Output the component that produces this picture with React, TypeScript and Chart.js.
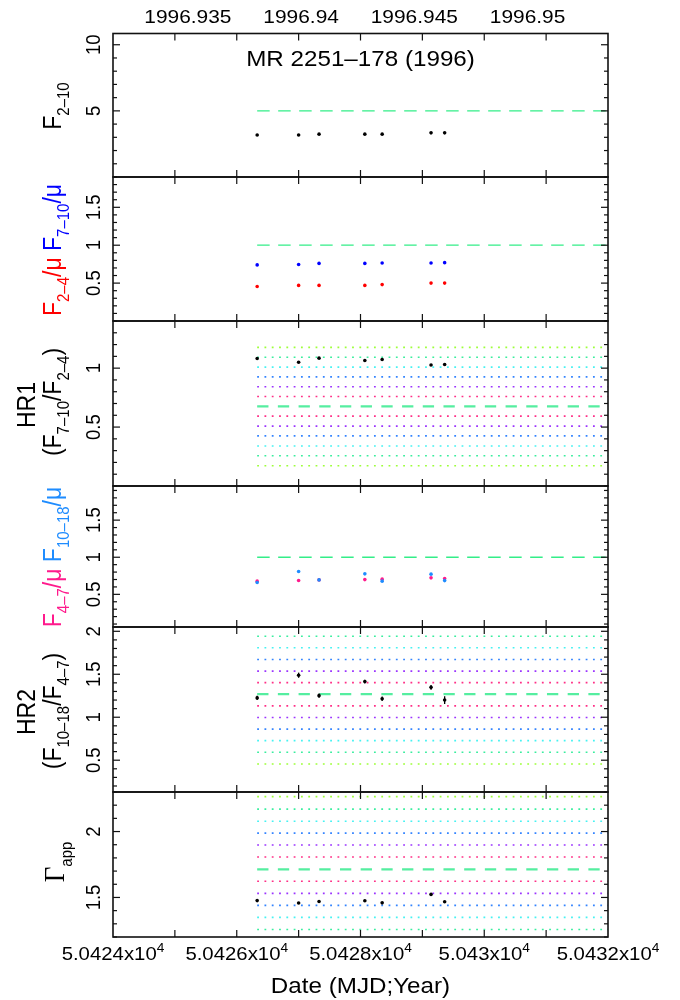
import React, { useEffect, useRef } from 'react';
import { Chart, registerables } from 'chart.js';

Chart.register(...registerables);

// ---------- data ----------
const mjd = [50426.33, 50427.0, 50427.33, 50428.07, 50428.35, 50429.14, 50429.36];
const f210 = [3.18, 3.18, 3.24, 3.24, 3.24, 3.34, 3.34];
const f24mu = [0.456, 0.47, 0.47, 0.47, 0.48, 0.5, 0.5];
const f710mu = [0.74, 0.745, 0.76, 0.76, 0.765, 0.765, 0.77];
const hr1 = [1.082, 1.05, 1.085, 1.065, 1.073, 1.027, 1.031];
const hr1Err = [0.008, 0.007, 0.008, 0.008, 0.008, 0.009, 0.012];
const f47mu = [0.678, 0.686, 0.695, 0.699, 0.705, 0.722, 0.713];
const f1018mu = [0.659, 0.807, 0.695, 0.776, 0.678, 0.772, 0.685];
const hr2 = [1.225, 1.489, 1.251, 1.415, 1.215, 1.348, 1.2];
const hr2Err = [0.025, 0.03, 0.025, 0.022, 0.025, 0.028, 0.045];
const gammaApp = [1.476, 1.458, 1.469, 1.475, 1.459, 1.523, 1.467];
const gammaErr = [0.006, 0.006, 0.006, 0.006, 0.006, 0.007, 0.007];

// reference levels (mean dashed, +/- sigma dotted)
const f210Ref = 5;
const ratioRef = 1;
const hr1Mean = 0.676;
const hr1Above = [0.759, 0.842, 0.926, 1.009, 1.093, 1.176];
const hr1Below = [0.593, 0.508, 0.425, 0.34, 0.257, 0.172];
const hr2Mean = 1.268;
const hr2Above = [1.403, 1.536, 1.671, 1.808, 1.942];
const hr2Below = [1.132, 0.997, 0.862, 0.728, 0.592, 0.456];
const gamMean = 1.713;
const gamAbove = [1.807, 1.898, 1.988, 2.078, 2.17, 2.265];
const gamBelow = [1.623, 1.531, 1.44, 1.349, 1.257];
const sigmaColors = ['#ff2f86', '#9b34ff', '#3384ff', '#45f2f2', '#38ee9e', '#9dff38'];

// axes / ticks
const X_MIN = 50424;
const X_MAX = 50432;
const xTickValues = [50424, 50426, 50428, 50430, 50432];
const yearTickLabels = ['1996.935', '1996.94', '1996.945', '1996.95'];
const YEAR0_MJD = 50083;
const DAYS_IN_YEAR = 366;

const p1Ticks = [5, 10];
const p1Labels = ['5', '10'];
const p2Ticks = [0.5, 1, 1.5];
const p2Labels = ['0.5', '1', '1.5'];
const p3Ticks = [0.5, 1];
const p3Labels = ['0.5', '1'];
const p4Ticks = [0.5, 1, 1.5];
const p4Labels = ['0.5', '1', '1.5'];
const p5Ticks = [0.5, 1, 1.5, 2];
const p5Labels = ['0.5', '1', '1.5', '2'];
const p6Ticks = [1.5, 2];
const p6Labels = ['1.5', '2'];

// ---------- layout / style ----------
const W = 680;
const H = 1000;
const PLOT_LEFT = 113;
const PLOT_RIGHT = 608;
const SANS = '"Liberation Sans", Arial, Helvetica, sans-serif';
const SERIF = '"Liberation Serif", "Times New Roman", serif';
const SX = 1.1;
const TICK = 18.5;
const TITLE = 23;
const SUB = 15;

type Seg = { t: string; s: number; c?: string; dy?: number; f?: string };

function rich(ctx: CanvasRenderingContext2D, x: number, y: number, segs: Seg[], rot: boolean) {
  ctx.save();
  ctx.translate(x, y);
  ctx.scale(SX, 1);
  if (rot) ctx.rotate(-Math.PI / 2);
  ctx.textBaseline = 'alphabetic';
  ctx.textAlign = 'left';
  const widths = segs.map((s) => {
    ctx.font = `${s.s}px ${s.f || SANS}`;
    return ctx.measureText(s.t).width;
  });
  const total = widths.reduce((a, b) => a + b, 0);
  let cx = -total / 2;
  segs.forEach((s, i) => {
    ctx.font = `${s.s}px ${s.f || SANS}`;
    ctx.fillStyle = s.c || '#000';
    ctx.fillText(s.t, cx, s.dy || 0);
    cx += widths[i];
  });
  ctx.restore();
}

const pts = (ys: number[], color: string) => ({
  type: 'scatter',
  data: mjd.map((x, i) => ({ x, y: ys[i] })),
  backgroundColor: color,
  borderColor: color,
  borderWidth: 0,
  pointRadius: 1.8,
  pointHoverRadius: 1.8,
  order: 0,
});

const refLine = (y: number, color: string, width: number, dash: number[]) => ({
  type: 'scatter',
  showLine: true,
  data: [
    { x: mjd[0], y },
    { x: X_MAX, y },
  ],
  borderColor: color,
  backgroundColor: color,
  borderWidth: width,
  borderDash: dash,
  pointRadius: 0,
  pointHoverRadius: 0,
  fill: false,
  order: 5,
});

const thinDash = (y: number) => refLine(y, '#33ee88', 1.3, [12.5, 8.5]);
const thickDash = (y: number) => refLine(y, '#55eea0', 2.3, [11.3, 9.4]);
const sigmaLines = (above: number[], below: number[]) => [
  ...above.map((v, i) => refLine(v, sigmaColors[i], 1.6, [1.8, 5.5])),
  ...below.map((v, i) => refLine(v, sigmaColors[i], 1.6, [1.8, 5.5])),
];

type Panel = {
  id: string;
  top: number;
  bottom: number;
  yMin: number;
  yMax: number;
  ticks: number[];
  labels: string[];
  minor: number;
  datasets: any[];
  errors?: { y: number[]; e: number[] }[];
  extra: (ctx: CanvasRenderingContext2D, a: any, xs: any, ys: any) => void;
};

const panels: Panel[] = [
  {
    id: 'p1',
    top: 33.5,
    bottom: 177,
    yMin: 0,
    yMax: 10.85,
    ticks: p1Ticks,
    labels: p1Labels,
    minor: 1,
    datasets: [thinDash(f210Ref), pts(f210, '#000')],
    extra: (ctx, a, xs) => {
      rich(ctx, 61, 106, [{ t: 'F', s: TITLE }, { t: '2\u201310', s: SUB, dy: 7 }], true);
      rich(ctx, (a.left + a.right) / 2, 66, [{ t: 'MR 2251\u2013178 (1996)', s: 22 }], false);
      yearTickLabels.forEach((lbl) => {
        const px = xs.getPixelForValue(YEAR0_MJD + (parseFloat(lbl) - 1996) * DAYS_IN_YEAR);
        rich(ctx, px, 23, [{ t: lbl, s: 19 }], false);
      });
    },
  },
  {
    id: 'p2',
    top: 177,
    bottom: 321,
    yMin: 0,
    yMax: 1.9,
    ticks: p2Ticks,
    labels: p2Labels,
    minor: 0.1,
    datasets: [thinDash(ratioRef), pts(f710mu, '#0000ff'), pts(f24mu, '#ff0000')],
    extra: (ctx) => {
      rich(
        ctx,
        61,
        250,
        [
          { t: 'F', s: TITLE, c: '#ff0000' },
          { t: '2\u20134', s: SUB, dy: 7, c: '#ff0000' },
          { t: '/\u03bc ', s: TITLE, c: '#ff0000' },
          { t: 'F', s: TITLE, c: '#0000ff' },
          { t: '7\u201310', s: SUB, dy: 7, c: '#0000ff' },
          { t: '/\u03bc', s: TITLE, c: '#0000ff' },
        ],
        true
      );
    },
  },
  {
    id: 'p3',
    top: 321,
    bottom: 486,
    yMin: 0,
    yMax: 1.4,
    ticks: p3Ticks,
    labels: p3Labels,
    minor: 0.1,
    datasets: [...sigmaLines(hr1Above, hr1Below), thickDash(hr1Mean), pts(hr1, '#000')],
    errors: [{ y: hr1, e: hr1Err }],
    extra: (ctx) => {
      rich(ctx, 35, 405, [{ t: 'HR1', s: TITLE }], true);
      rich(
        ctx,
        61,
        402,
        [
          { t: '(F', s: TITLE },
          { t: '7\u201310', s: SUB, dy: 7 },
          { t: '/F', s: TITLE },
          { t: '2\u20134', s: SUB, dy: 7 },
          { t: ')', s: TITLE },
        ],
        true
      );
    },
  },
  {
    id: 'p4',
    top: 486,
    bottom: 627,
    yMin: 0.06,
    yMax: 1.96,
    ticks: p4Ticks,
    labels: p4Labels,
    minor: 0.1,
    datasets: [thinDash(ratioRef), pts(f1018mu, '#1e8cff'), pts(f47mu, '#ff1a8c')],
    extra: (ctx) => {
      rich(
        ctx,
        61,
        557,
        [
          { t: 'F', s: TITLE, c: '#ff1a8c' },
          { t: '4\u20137', s: SUB, dy: 7, c: '#ff1a8c' },
          { t: '/\u03bc ', s: TITLE, c: '#ff1a8c' },
          { t: 'F', s: TITLE, c: '#1e8cff' },
          { t: '10\u201318', s: SUB, dy: 7, c: '#1e8cff' },
          { t: '/\u03bc', s: TITLE, c: '#1e8cff' },
        ],
        true
      );
    },
  },
  {
    id: 'p5',
    top: 627,
    bottom: 792,
    yMin: 0.13,
    yMax: 2.05,
    ticks: p5Ticks,
    labels: p5Labels,
    minor: 0.1,
    datasets: [...sigmaLines(hr2Above, hr2Below), thickDash(hr2Mean), pts(hr2, '#000')],
    errors: [{ y: hr2, e: hr2Err }],
    extra: (ctx) => {
      rich(ctx, 35, 712, [{ t: 'HR2', s: TITLE }], true);
      rich(
        ctx,
        61,
        711,
        [
          { t: '(F', s: TITLE },
          { t: '10\u201318', s: SUB, dy: 7 },
          { t: '/F', s: TITLE },
          { t: '4\u20137', s: SUB, dy: 7 },
          { t: ')', s: TITLE },
        ],
        true
      );
    },
  },
  {
    id: 'p6',
    top: 792,
    bottom: 937,
    yMin: 1.2,
    yMax: 2.3,
    ticks: p6Ticks,
    labels: p6Labels,
    minor: 0.1,
    datasets: [...sigmaLines(gamAbove, gamBelow), thickDash(gamMean), pts(gammaApp, '#000')],
    errors: [{ y: gammaApp, e: gammaErr }],
    extra: (ctx, a, xs) => {
      rich(
        ctx,
        64,
        862,
        [
          { t: '\u0393', s: 27, f: SERIF },
          { t: 'app', s: SUB, dy: 7 },
        ],
        true
      );
      xTickValues.forEach((v) => {
        const px = xs.getPixelForValue(v);
        const mant = parseFloat((v / 1e4).toFixed(6)).toString();
        rich(
          ctx,
          px,
          960,
          [
            { t: mant + 'x10', s: TICK },
            { t: '4', s: 12.5, dy: -8 },
          ],
          false
        );
      });
      rich(ctx, (a.left + a.right) / 2, 993, [{ t: 'Date (MJD;Year)', s: 22 }], false);
    },
  },
];

function seg(ctx: CanvasRenderingContext2D, x1: number, y1: number, x2: number, y2: number) {
  ctx.beginPath();
  ctx.moveTo(x1, y1);
  ctx.lineTo(x2, y2);
  ctx.stroke();
}

function makePlugin(p: Panel) {
  return {
    id: 'deco_' + p.id,
    afterDatasetsDraw(chart: any) {
      const ctx: CanvasRenderingContext2D = chart.ctx;
      const a = chart.chartArea;
      const xs = chart.scales.x;
      const ys = chart.scales.y;
      ctx.save();
      // error bars
      ctx.strokeStyle = '#000';
      ctx.lineWidth = 1.3;
      (p.errors || []).forEach((er) => {
        er.y.forEach((v, i) => {
          const px = xs.getPixelForValue(mjd[i]);
          seg(ctx, px, ys.getPixelForValue(v - er.e[i]), px, ys.getPixelForValue(v + er.e[i]));
        });
      });
      // frame
      ctx.strokeStyle = '#111';
      ctx.lineWidth = 1.6;
      ctx.strokeRect(a.left, a.top, a.right - a.left, a.bottom - a.top);
      // x ticks (top & bottom, inward)
      ctx.lineWidth = 1.2;
      for (let d = X_MIN + 1; d < X_MAX; d += 1) {
        const px = xs.getPixelForValue(d);
        seg(ctx, px, a.top, px, a.top + 7);
        seg(ctx, px, a.bottom, px, a.bottom - 7);
      }
      // y ticks
      const isMajor = (v: number) => p.ticks.some((t) => Math.abs(t - v) < 1e-6);
      for (let k = Math.ceil(p.yMin / p.minor - 1e-9); k * p.minor <= p.yMax + 1e-9; k++) {
        const v = k * p.minor;
        const py = ys.getPixelForValue(v);
        const len = isMajor(v) ? 7 : 4;
        seg(ctx, a.left, py, a.left + len, py);
        seg(ctx, a.right, py, a.right - len, py);
      }
      // y tick labels
      p.ticks.forEach((v, i) => {
        rich(ctx, 100, ys.getPixelForValue(v), [{ t: p.labels[i], s: TICK }], true);
      });
      p.extra(ctx, a, xs, ys);
      ctx.restore();
    },
  };
}

function buildConfig(p: Panel): any {
  return {
    type: 'scatter',
    data: { datasets: p.datasets },
    options: {
      responsive: false,
      maintainAspectRatio: false,
      animation: false,
      devicePixelRatio: 1,
      events: [],
      layout: {
        padding: { left: PLOT_LEFT, right: W - PLOT_RIGHT, top: p.top, bottom: H - p.bottom },
      },
      scales: {
        x: { type: 'linear', min: X_MIN, max: X_MAX, display: false },
        y: { type: 'linear', min: p.yMin, max: p.yMax, display: false },
      },
      plugins: { legend: { display: false }, tooltip: { enabled: false } },
    },
    plugins: [makePlugin(p)],
  };
}

export default function App() {
  const refs = useRef<(HTMLCanvasElement | null)[]>([]);
  useEffect(() => {
    const charts = panels.map((p, i) => new Chart(refs.current[i] as HTMLCanvasElement, buildConfig(p)));
    return () => charts.forEach((c) => c.destroy());
  }, []);
  return (
    <div style={{ position: 'absolute', left: 0, top: 0, width: W, height: H, background: '#fff' }}>
      {panels.map((p, i) => (
        <canvas
          key={p.id}
          ref={(el) => {
            refs.current[i] = el;
          }}
          width={W}
          height={H}
          style={{ position: 'absolute', left: 0, top: 0, width: W, height: H }}
        />
      ))}
    </div>
  );
}
